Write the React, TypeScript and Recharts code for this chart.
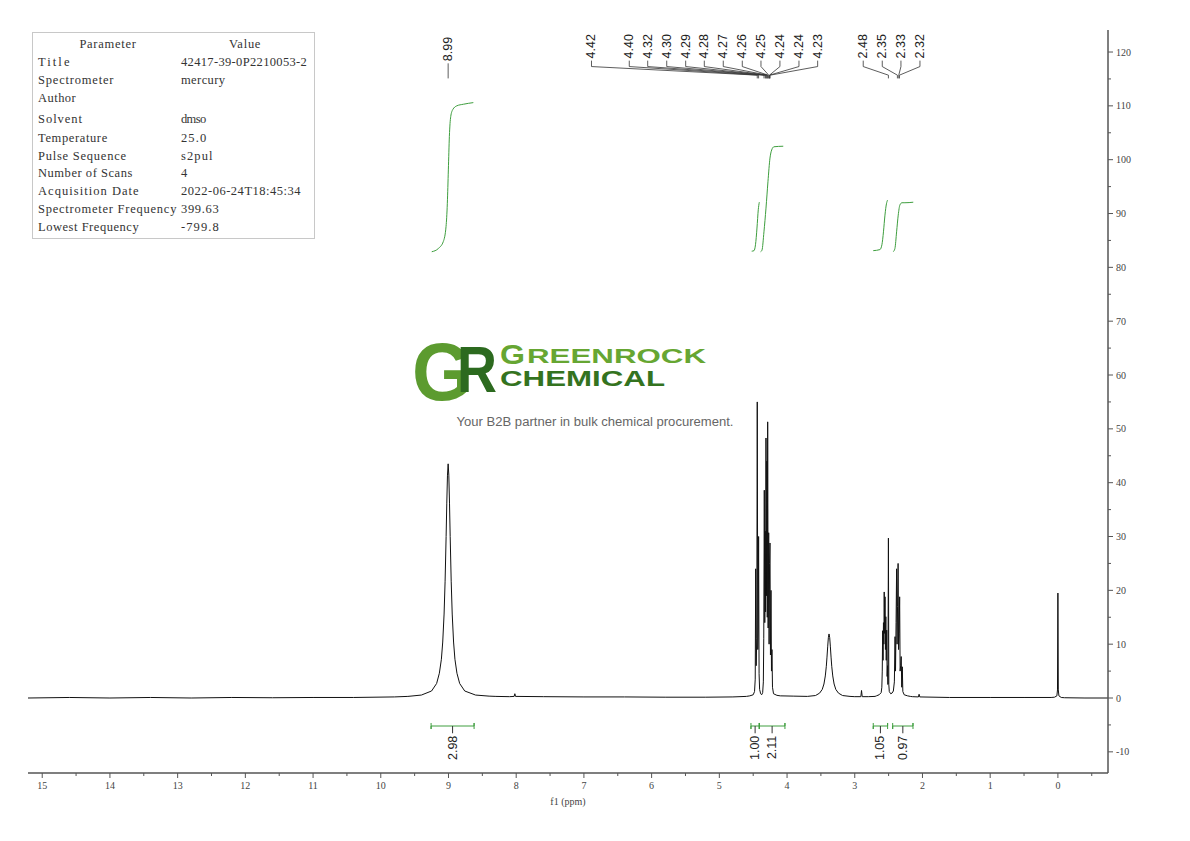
import React from 'react';
import { ComposedChart, Line, Scatter, XAxis, YAxis } from 'recharts';

type Pt = [number, number];

// ---------- axes ----------
const X_MIN = -0.74;
const X_MAX = 15.21;
const Y_MIN = -13.93;
const Y_MAX = 124.09;
const xTickValues = [15, 14.5, 14, 13.5, 13, 12.5, 12, 11.5, 11, 10.5, 10, 9.5, 9, 8.5, 8, 7.5, 7, 6.5, 6, 5.5, 5, 4.5, 4, 3.5, 3, 2.5, 2, 1.5, 1, 0.5, 0, -0.5];
const yTickValues = [-10, -5, 0, 5, 10, 15, 20, 25, 30, 35, 40, 45, 50, 55, 60, 65, 70, 75, 80, 85, 90, 95, 100, 105, 110, 115, 120];
const xAxisTitle = 'f1 (ppm)';

// ---------- spectrum (ppm, intensity) ----------
const baseline: Pt[] = [
  [15.21, 0.0], [14.6, 0.1], [14.0, 0.0], [13.4, 0.1], [12.8, 0.0], [12.2, 0.1], [11.6, 0.05], [11.0, 0.1], [10.4, 0.1], [9.8, 0.2],
  [8.3, 0.3], [8.1, 0.25], [8.03, 0.3], [8.02, 0.8], [8.01, 0.3], [7.6, 0.25], [7.0, 0.2], [6.4, 0.2], [5.8, 0.15], [5.2, 0.15], [4.8, 0.2], [4.6, 0.3],
  [3.9, 0.35],
  [3.0, 0.25], [2.91, 0.25], [2.9, 1.4], [2.89, 0.25], [2.8, 0.25], [2.7, 0.3],
  [2.15, 0.25], [2.06, 0.2], [2.05, 0.7], [2.04, 0.2], [1.6, 0.1], [1.0, 0.1], [0.5, 0.1], [0.1, 0.1],
  [-0.1, 0.05], [-0.4, 0.0], [-0.74, 0.0],
];
const peak899: Pt[] = [
  [9.6, 0.3], [9.4, 0.55], [9.25, 1.3], [9.175, 2.7], [9.135, 4.6], [9.105, 7.2], [9.085, 10.4], [9.065, 15.6], [9.05, 21.7],
  [9.035, 30], [9.025, 36.2], [9.015, 41.4], [9.005, 43.5], [8.995, 41.4], [8.985, 36.2], [8.975, 30], [8.96, 21.7],
  [8.945, 15.6], [8.925, 10.4], [8.905, 7.2], [8.875, 4.6], [8.835, 2.7], [8.76, 1.3], [8.6, 0.55], [8.4, 0.35],
];
const multiplet44: Pt[] = [
  [4.55, 0.4], [4.5, 0.6], [4.48, 1.2], [4.47, 3.5], [4.463, 24], [4.456, 6], [4.447, 11], [4.44, 55], [4.432, 9], [4.426, 13],
  [4.42, 30], [4.413, 4.5], [4.405, 1.6], [4.39, 0.8], [4.375, 0.6], [4.36, 1.0], [4.35, 3], [4.344, 11], [4.336, 38.6],
  [4.329, 14], [4.323, 31], [4.317, 16], [4.311, 48.3], [4.304, 19], [4.298, 44], [4.292, 15], [4.286, 51.3], [4.279, 13],
  [4.271, 30.7], [4.265, 10], [4.258, 25], [4.252, 28.8], [4.245, 8], [4.237, 20], [4.23, 5], [4.223, 9], [4.215, 2],
  [4.2, 0.8], [4.15, 0.5], [4.1, 0.4],
];
const water: Pt[] = [
  [3.7, 0.3], [3.58, 0.46], [3.52, 0.9], [3.48, 1.6], [3.455, 2.6], [3.435, 4.1], [3.42, 5.9], [3.41, 7.6], [3.4, 9.5],
  [3.39, 11.2], [3.38, 11.9], [3.37, 11.2], [3.36, 9.5], [3.35, 7.6], [3.34, 5.9], [3.325, 4.1], [3.305, 2.6],
  [3.28, 1.6], [3.24, 0.9], [3.18, 0.46], [3.07, 0.3],
];
const multiplet25: Pt[] = [
  [2.68, 0.4], [2.64, 0.6], [2.61, 1.0], [2.6, 2], [2.594, 5], [2.588, 12.5], [2.582, 7], [2.576, 14], [2.57, 10], [2.565, 19.7],
  [2.559, 12], [2.553, 18.8], [2.547, 9], [2.541, 15.1], [2.535, 7], [2.528, 12.6], [2.522, 4], [2.516, 6], [2.51, 2.5],
  [2.503, 29.7], [2.497, 2.5], [2.49, 1.2], [2.47, 0.8], [2.45, 0.9], [2.43, 1.3], [2.415, 3], [2.405, 11.4], [2.398, 5],
  [2.39, 14], [2.382, 24], [2.375, 10], [2.368, 17], [2.36, 25], [2.353, 9], [2.345, 12], [2.337, 18.8], [2.33, 5],
  [2.322, 6], [2.314, 7.7], [2.306, 2], [2.298, 5.8], [2.29, 1.2], [2.27, 0.6], [2.22, 0.4], [2.18, 0.3],
];
const tms: Pt[] = [[0.05, 0.15], [0.015, 0.4], [0.006, 1.5], [0, 19.5], [-0.006, 1.5], [-0.015, 0.4], [-0.05, 0.1]];

// ---------- peak picking ----------
const peakLabels = ['8.99', '4.42', '4.40', '4.32', '4.30', '4.29', '4.28', '4.27', '4.26', '4.25', '4.24', '4.24', '4.23', '2.48', '2.35', '2.33', '2.32'];
const peakPositions = [9.005, 4.44, 4.42, 4.34, 4.32, 4.31, 4.3, 4.29, 4.28, 4.27, 4.26, 4.26, 4.25, 2.503, 2.37, 2.35, 2.34];

// ---------- integrals ----------
const integralValues = ['2.98', '1.00', '2.11', '1.05', '0.97'];
const integralRanges: Pt[] = [[9.257, 8.622], [4.533, 4.41], [4.41, 4.031], [2.727, 2.515], [2.44, 2.14]];
const integral1: Pt[] = [
  [9.247, 82.9], [9.15, 83.5], [9.076, 84.8], [9.036, 87.6], [9.017, 91.9], [9.002, 98.1], [8.987, 104.3],
  [8.967, 108.0], [8.937, 109.3], [8.878, 110.0], [8.78, 110.3], [8.633, 110.6],
];
const integral2: Pt[] = [[4.522, 83.0], [4.488, 83.1], [4.466, 84.2], [4.444, 87.3], [4.425, 90.7], [4.41, 92.1]];
const integral3: Pt[] = [
  [4.39, 82.9], [4.37, 83.2], [4.341, 86.6], [4.311, 91.0], [4.282, 95.9], [4.252, 100.3], [4.227, 101.8],
  [4.193, 102.4], [4.056, 102.5],
];
const integral4: Pt[] = [[2.727, 83.1], [2.628, 83.3], [2.599, 84.2], [2.576, 86.6], [2.554, 89.7], [2.532, 91.8], [2.515, 92.5]];
const integral5: Pt[] = [
  [2.432, 82.9], [2.407, 83.5], [2.382, 86.6], [2.358, 89.7], [2.333, 91.6], [2.303, 92.0], [2.259, 92.0], [2.136, 92.1],
];

// ---------- parameter table ----------
const paramNames = ['Title', 'Spectrometer', 'Author', 'Solvent', 'Temperature', 'Pulse Sequence', 'Number of Scans', 'Acquisition Date', 'Spectrometer Frequency', 'Lowest Frequency'];
const paramValues = ['42417-39-0P2210053-2', 'mercury', '', 'dmso', '25.0', 's2pul', '4', '2022-06-24T18:45:34', '399.63', '-799.8'];

// ---------- styling / layout ----------
const SERIF = "'Liberation Serif', 'DejaVu Serif', serif";
const SANS = "'Liberation Sans', Arial, sans-serif";
const GREEN = '#3e9e3e';
const AXIS = '#555';
const labelSlots = [9.005, 6.888, 6.33, 6.058, 5.777, 5.497, 5.222, 4.942, 4.661, 4.385, 4.105, 3.824, 3.548, 2.875, 2.594, 2.318, 2.037];
const rowCenters = [61.7, 80, 97.7, 119.3, 137.7, 155.7, 173.3, 191.3, 209, 226.7];

const toPts = (arr: Pt[]) => arr.map(([x, y]) => ({ x, y }));

const spectrum = toPts(
  [...baseline, ...peak899, ...multiplet44, ...water, ...multiplet25, ...tms].sort((a, b) => b[0] - a[0])
);
const integralCurves = [integral1, integral2, integral3, integral4, integral5].map(toPts);

const XTick = (props: any) => {
  const { x, y, payload } = props;
  const v = payload.value as number;
  const major = Number.isInteger(v);
  return (
    <g>
      <line x1={x} x2={x} y1={y} y2={y + (major ? 5 : 3)} stroke={AXIS} strokeWidth={1} />
      {major && (
        <text x={x} y={y + 15.5} textAnchor="middle" fontFamily={SERIF} fontSize={10} fill="#444">
          {v}
        </text>
      )}
    </g>
  );
};

const YTick = (props: any) => {
  const { x, y, payload } = props;
  const v = payload.value as number;
  const major = v % 10 === 0;
  return (
    <g>
      <line x1={x} x2={x + (major ? 5 : 3)} y1={y} y2={y} stroke={AXIS} strokeWidth={1} />
      {major && (
        <text x={x + 8} y={y + 3.5} textAnchor="start" fontFamily={SERIF} fontSize={10} fill="#444">
          {v}
        </text>
      )}
    </g>
  );
};

const TopLabel = (p: any) => {
  const { cx, cy, payload } = p;
  return (
    <text x={cx} y={cy} transform={`rotate(-90 ${cx} ${cy})`} textAnchor="start" dominantBaseline="central" fontFamily={SANS} fontSize={12.5} fill="#222">
      {payload.label}
    </text>
  );
};

const BottomLabel = (p: any) => {
  const { cx, cy, payload } = p;
  return (
    <text x={cx} y={cy} transform={`rotate(-90 ${cx} ${cy})`} textAnchor="end" dominantBaseline="central" fontFamily={SANS} fontSize={12.5} fill="#222">
      {payload.label}
    </text>
  );
};

export default function App() {
  const topLabelData = peakLabels.map((label, i) => ({ x: labelSlots[i], y: i === 0 ? 118.3 : 118.8, label }));
  const connectors = peakLabels.map((_, i) =>
    i === 0
      ? [{ x: labelSlots[i], y: 117.9 }, { x: peakPositions[i], y: 115.1 }]
      : [
          { x: labelSlots[i], y: 118.4 },
          { x: labelSlots[i], y: 117.3 },
          { x: peakPositions[i], y: 115.7 },
          { x: peakPositions[i], y: 115.1 },
        ]
  );
  const brackets = integralRanges.map(([a, b]) => [
    { x: a, y: -4.64 },
    { x: a, y: -5.76 },
    { x: a, y: -5.2 },
    { x: b, y: -5.2 },
    { x: b, y: -4.64 },
    { x: b, y: -5.76 },
  ]);
  const centerTicks = integralRanges.map(([a, b]) => [
    { x: (a + b) / 2, y: -5.2 },
    { x: (a + b) / 2, y: -6.55 },
  ]);
  const bottomLabelData = integralRanges.map(([a, b], i) => ({ x: (a + b) / 2, y: -7.0, label: integralValues[i] }));

  const charW = 6.29;

  return (
    <div style={{ position: 'absolute', left: 0, top: 0, width: 1190, height: 841, background: '#fff' }}>
      <ComposedChart width={1190} height={841} margin={{ top: 30, right: 22, bottom: 33, left: 28 }}>
        <XAxis
          type="number"
          dataKey="x"
          domain={[X_MIN, X_MAX]}
          reversed
          allowDataOverflow
          ticks={xTickValues}
          interval={0}
          tick={XTick}
          tickLine={false}
          tickSize={0}
          tickMargin={0}
          axisLine={{ stroke: AXIS, strokeWidth: 1.5 }}
          height={35}
          label={{ value: xAxisTitle, position: 'insideBottom', offset: 3, fill: '#444', fontSize: 10, fontFamily: SERIF }}
        />
        <YAxis
          type="number"
          orientation="right"
          domain={[Y_MIN, Y_MAX]}
          allowDataOverflow
          ticks={yTickValues}
          interval={0}
          tick={YTick}
          tickLine={false}
          tickSize={0}
          tickMargin={0}
          axisLine={{ stroke: AXIS, strokeWidth: 1.5 }}
          width={60}
        />
        {integralCurves.map((d, i) => (
          <Line key={'int' + i} data={d} dataKey="y" type="monotone" stroke={GREEN} strokeWidth={1} dot={false} activeDot={false} isAnimationActive={false} />
        ))}
        {brackets.map((d, i) => (
          <Line key={'br' + i} data={d} dataKey="y" type="linear" stroke={GREEN} strokeWidth={1} dot={false} activeDot={false} isAnimationActive={false} />
        ))}
        {centerTicks.map((d, i) => (
          <Line key={'ct' + i} data={d} dataKey="y" type="linear" stroke="#333" strokeWidth={1} dot={false} activeDot={false} isAnimationActive={false} />
        ))}
        {connectors.map((d, i) => (
          <Line key={'cn' + i} data={d} dataKey="y" type="linear" stroke="#333" strokeWidth={0.8} dot={false} activeDot={false} isAnimationActive={false} />
        ))}
        <Line data={spectrum} dataKey="y" type="linear" stroke="#111" strokeWidth={1} dot={false} activeDot={false} isAnimationActive={false} />
        <Scatter data={topLabelData} dataKey="y" shape={TopLabel} isAnimationActive={false} />
        <Scatter data={bottomLabelData} dataKey="y" shape={BottomLabel} isAnimationActive={false} />
      </ComposedChart>

      <svg width={1190} height={841} style={{ position: 'absolute', left: 0, top: 0, pointerEvents: 'none' }}>
        {/* parameter table */}
        <rect x={32.5} y={32.5} width={282} height={206} fill="none" stroke="#c8c8c8" strokeWidth={1} />
        <text x={107.7} y={48} textAnchor="middle" fontFamily={SERIF} fontSize={12.5} fill="#333" textLength={9 * charW}>
          Parameter
        </text>
        <text x={244.7} y={48} textAnchor="middle" fontFamily={SERIF} fontSize={12.5} fill="#333" textLength={5 * charW}>
          Value
        </text>
        {paramNames.map((n, i) => (
          <text key={'pn' + i} x={38} y={rowCenters[i] + 4} fontFamily={SERIF} fontSize={12.5} fill="#333" textLength={n.length * charW}>
            {n}
          </text>
        ))}
        {paramValues.map((v, i) =>
          v ? (
            <text key={'pv' + i} x={181} y={rowCenters[i] + 4} fontFamily={SERIF} fontSize={12.5} fill="#333" textLength={v.length * charW}>
              {v}
            </text>
          ) : null
        )}

        {/* watermark logo */}
        <text fontFamily={SANS} fontWeight="bold">
          <tspan x={412} y={400} fontSize={81} fill="#5c9b2f" textLength={60} lengthAdjust="spacingAndGlyphs">
            G
          </tspan>
          <tspan x={457} y={392} fontSize={65} fill="#2c6a1f" textLength={40} lengthAdjust="spacingAndGlyphs">
            R
          </tspan>
          <tspan x={500} y={363.5} fontSize={28} fill="#66a632" textLength={25} lengthAdjust="spacingAndGlyphs">
            G
          </tspan>
          <tspan x={527} y={363} fontSize={20.5} fill="#66a632" textLength={179} lengthAdjust="spacingAndGlyphs">
            REENROCK
          </tspan>
          <tspan x={500} y={385.5} fontSize={22} fill="#34731f" textLength={165} lengthAdjust="spacingAndGlyphs">
            CHEMICAL
          </tspan>
        </text>
        <text x={456.5} y={426} fontFamily={SANS} fontSize={12.5} fill="#666" textLength={277} lengthAdjust="spacingAndGlyphs">
          Your B2B partner in bulk chemical procurement.
        </text>
      </svg>
    </div>
  );
}
